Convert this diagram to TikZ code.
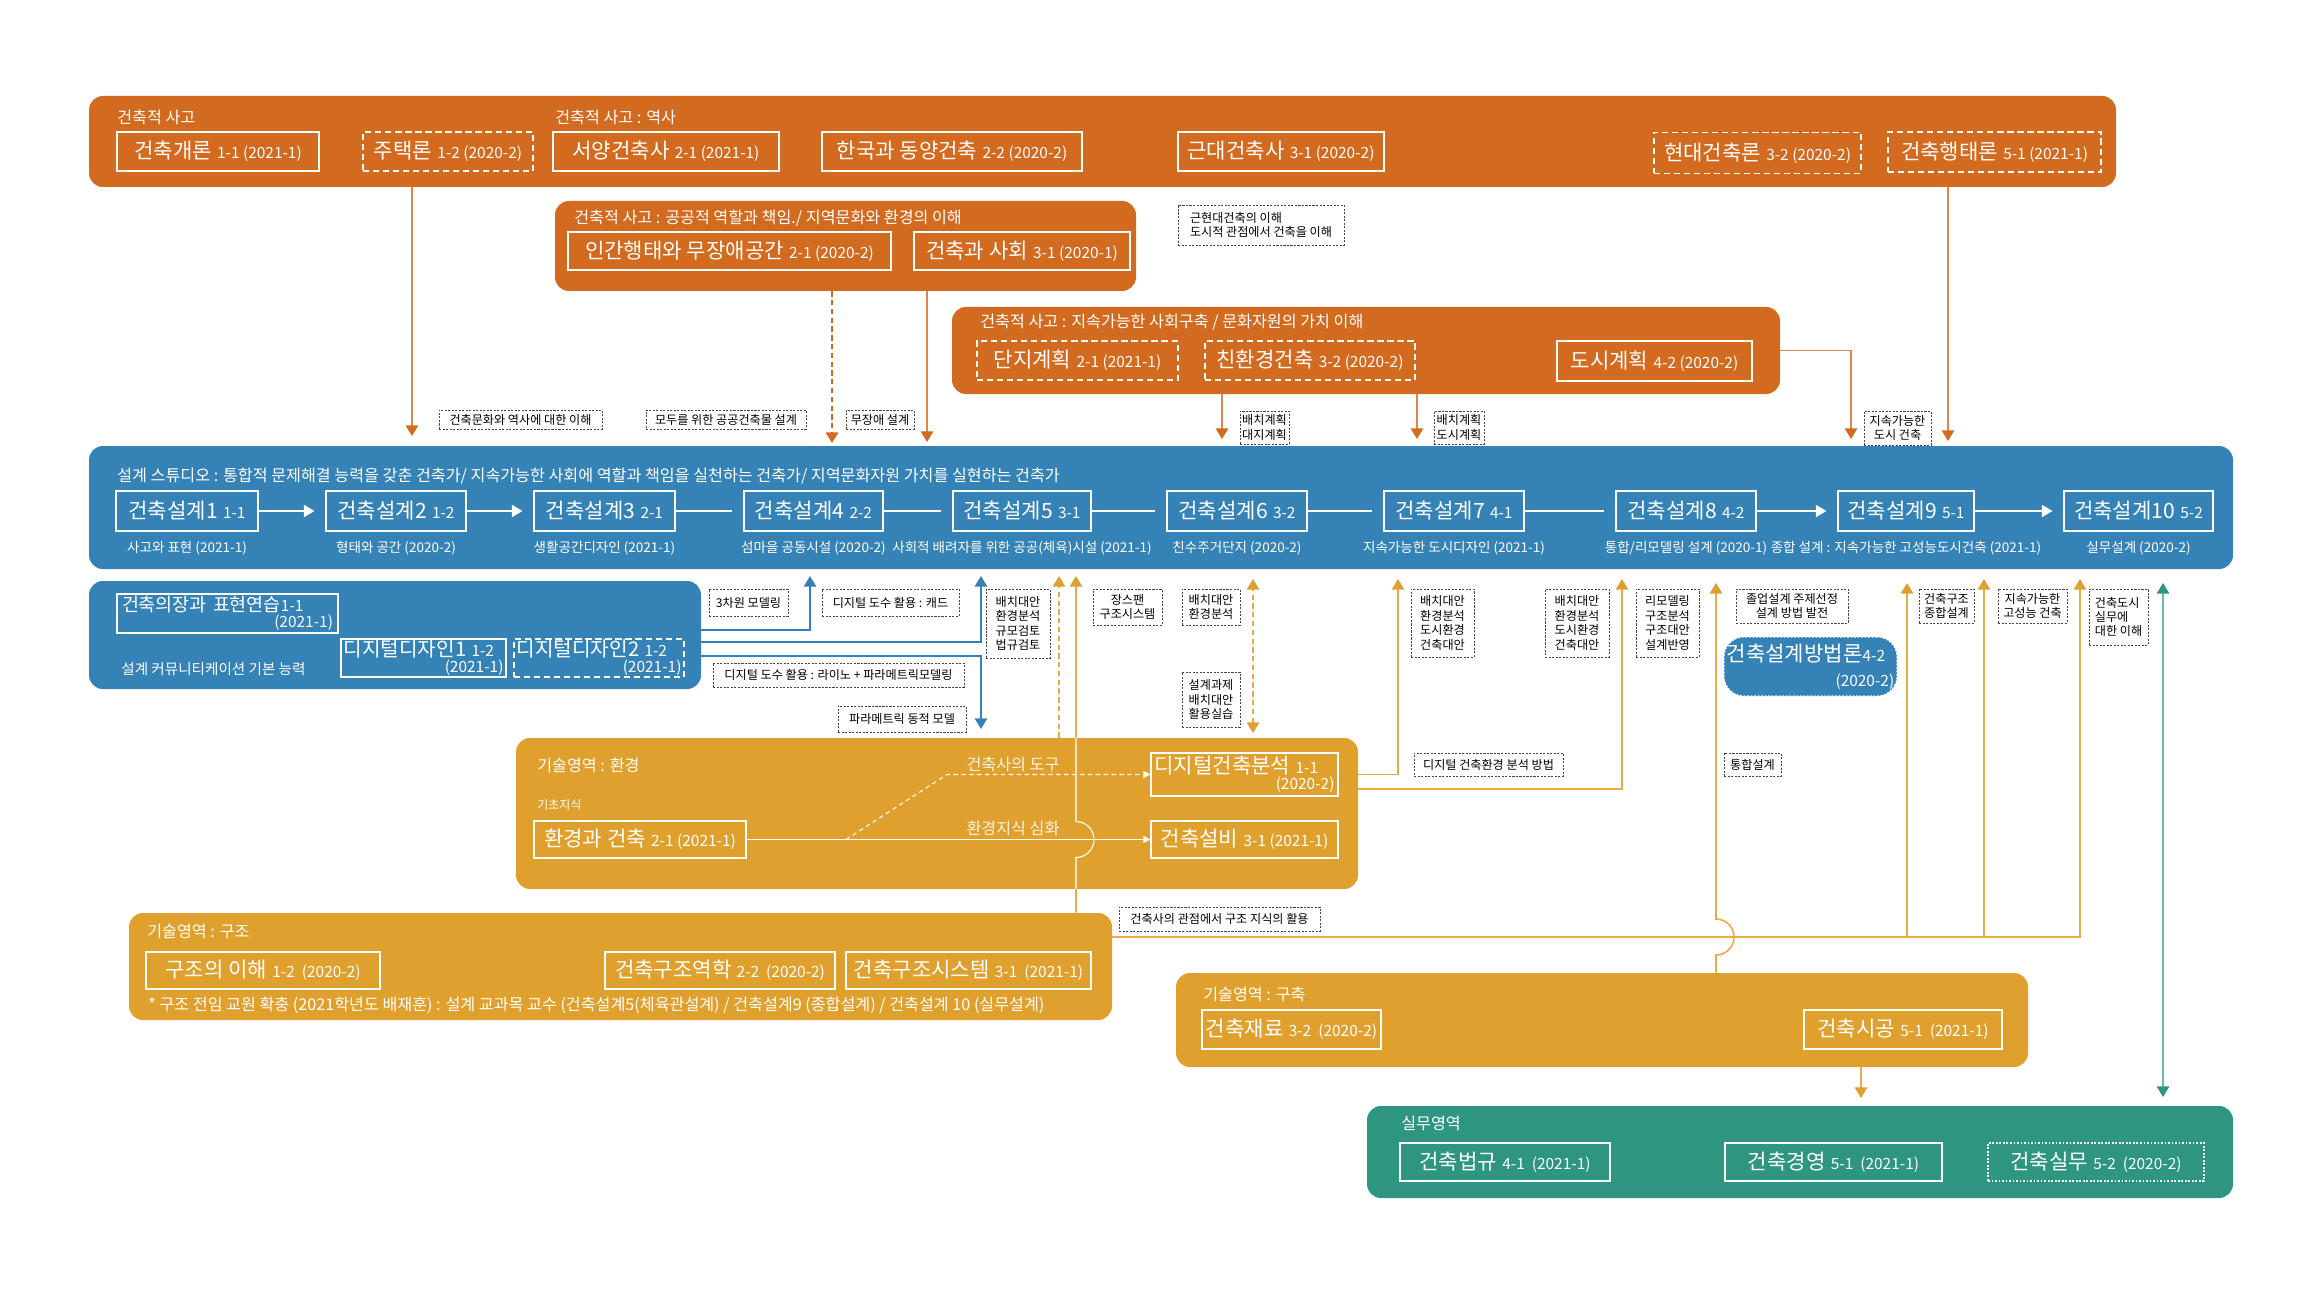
\documentclass[tikz,border=0pt]{standalone}
\usepackage{fontspec}
\setmainfont{Noto Sans CJK KR}
\usepackage{tikz}
\usetikzlibrary{arrows.meta, positioning, calc}
\usepackage{xcolor}
\definecolor{thinkorange}{RGB}{210,106,31}
\definecolor{thinkline}{RGB}{222,134,78}
\definecolor{techamber}{RGB}{224,160,46}
\definecolor{techline}{RGB}{234,170,70}
\definecolor{studioblue}{RGB}{53,130,182}
\definecolor{practeal}{RGB}{46,150,128}
\definecolor{pracline}{RGB}{110,186,166}
\definecolor{notegray}{RGB}{70,70,70}

\newcommand{\ccode}[1]{{\fontsize{8.8}{9}\selectfont #1}}
\newcommand{\course}[2]{#1\hspace{3pt}\ccode{#2}}

\begin{document}
\begin{tikzpicture}[
		x=0.02cm, y=-0.02cm,
		every node/.style={font=\fontsize{9.2}{10}\selectfont, text=white, inner sep=0pt},
		sz/.style 2 args={minimum width=#1*0.02cm, minimum height=#2*0.02cm},
		band/.style={fill=#1, rounded corners=0.28cm},
		bandlab/.style={anchor=west},
		crs/.style={draw=white, line width=0.7pt, font=\fontsize{12}{13}\selectfont},
		crsdash/.style={crs, dash pattern=on 3.5pt off 2.2pt},
		crsdot/.style={crs, dash pattern=on 1pt off 1pt},
		crstwo/.style={crs, align=left, font=\fontsize{11.5}{9}\selectfont},
		sub/.style={font=\fontsize{7.7}{8}\selectfont},
		note/.style={draw=notegray, fill=white, text=black, line width=0.4pt, dash pattern=on 1.2pt off 0.8pt, font=\fontsize{6.9}{8.2}\selectfont, align=center},
		envtxt/.style={text=white!88!techamber, font=\fontsize{9.2}{10}\selectfont},
		orngarrow/.style={draw=thinkline, line width=0.9pt, -{Triangle[width=7pt,length=6pt,color=thinkorange]}},
		amberarrow/.style={draw=techline, line width=0.9pt, -{Triangle[width=7pt,length=6pt,color=techamber]}},
		amberboth/.style={draw=techline, line width=0.9pt, dash pattern=on 3pt off 2pt, {Triangle[width=7pt,length=6pt,color=techamber]}-{Triangle[width=7pt,length=6pt,color=techamber]}},
		bluearrow/.style={draw=studioblue, line width=0.9pt, -{Triangle[width=7pt,length=6pt]}},
		tealboth/.style={draw=pracline, line width=0.9pt, {Triangle[width=7pt,length=6pt,color=practeal]}-{Triangle[width=7pt,length=6pt,color=practeal]}},
		chainarrow/.style={draw=white, line width=0.8pt, shorten >=0.22cm, -{Triangle[width=7pt,length=6pt]}},
		chainline/.style={draw=white, line width=0.8pt, shorten >=0.22cm},
		envarrow/.style={draw=white, line width=0.6pt, -{Triangle[width=4pt,length=4pt]}}
	]
	\fill[white] (0,0) rectangle (2300,1294);
	\useasboundingbox (0,0) rectangle (2300,1294);

	% 건축적 사고
	\node[band=thinkorange, sz={2027}{91}] (think) at (1102.5,141.5) {};
	\node[bandlab] (thinklab) at (117,117) {건축적 사고};
	\node[bandlab] (histlab) at (555,117) {건축적 사고 : 역사};
	\node[crs, sz={202}{39}] (c11) at (218,151.5) {\course{건축개론}{1-1 (2021-1)}};
	\node[crsdash, sz={170}{39}] (c12) at (448,151.5) {\course{주택론}{1-2 (2020-2)}};
	\node[crs, sz={226}{39}] (c21) at (666,151.5) {\course{서양건축사}{2-1 (2021-1)}};
	\node[crs, sz={260}{39}] (c22) at (952,151.5) {\course{한국과 동양건축}{2-2 (2020-2)}};
	\node[crs, sz={206}{39}] (c31) at (1281,151.5) {\course{근대건축사}{3-1 (2020-2)}};
	\node[crsdash, sz={207}{41}] (c32) at (1757.5,153) {\course{현대건축론}{3-2 (2020-2)}};
	\node[crsdash, sz={213}{40}] (c51) at (1994.5,152) {\course{건축행태론}{5-1 (2021-1)}};

	\node[band=thinkorange, sz={581}{90}] (public) at (845.5,246) {};
	\node[bandlab] (publab) at (574,218) {건축적 사고 : 공공적 역할과 책임./ 지역문화와 환경의 이해};
	\node[crs, sz={323}{38}] (p21) at (729.5,251) {\course{인간행태와 무장애공간}{2-1 (2020-2)}};
	\node[crs, sz={216}{38}] (p31) at (1022,251) {\course{건축과 사회}{3-1 (2020-1)}};

	\node[band=thinkorange, sz={828}{87}] (sustain) at (1366,350.5) {};
	\node[bandlab] (suslab) at (980,322) {건축적 사고 : 지속가능한 사회구축 / 문화자원의 가치 이해};
	\node[crsdash, sz={201}{39}] (s21) at (1077.5,360.5) {\course{단지계획}{2-1 (2021-1)}};
	\node[crsdash, sz={210}{39}] (s32) at (1310,360.5) {\course{친환경건축}{3-2 (2020-2)}};
	\node[crs, sz={195}{40}] (s42) at (1654.5,361) {\course{도시계획}{4-2 (2020-2)}};

	% 설계 스튜디오
	\node[band=studioblue, sz={2144}{123}] (studio) at (1161,507.5) {};
	\node[bandlab] (stulab) at (117,476) {설계 스튜디오 : 통합적 문제해결 능력을 갖춘 건축가/ 지속가능한 사회에 역할과 책임을 실천하는 건축가/ 지역문화자원 가치를 실현하는 건축가};
	\node[crs, sz={142}{40}] (d1) at (187,511) {\course{건축설계1}{1-1}};
	\node[crs, sz={140}{40}] (d2) at (396,511) {\course{건축설계2}{1-2}};
	\node[crs, sz={141}{40}] (d3) at (604.5,511) {\course{건축설계3}{2-1}};
	\node[crs, sz={139}{40}] (d4) at (813.5,511) {\course{건축설계4}{2-2}};
	\node[crs, sz={138}{40}] (d5) at (1022,511) {\course{건축설계5}{3-1}};
	\node[crs, sz={140}{40}] (d6) at (1237,511) {\course{건축설계6}{3-2}};
	\node[crs, sz={140}{40}] (d7) at (1454,511) {\course{건축설계7}{4-1}};
	\node[crs, sz={140}{40}] (d8) at (1686,511) {\course{건축설계8}{4-2}};
	\node[crs, sz={136}{40}] (d9) at (1906,511) {\course{건축설계9}{5-1}};
	\node[crs, sz={149}{40}] (d10) at (2138.5,511) {\course{건축설계10}{5-2}};
	\node[sub, below=5.5pt of d1] (d1s) {사고와 표현 (2021-1)};
	\node[sub, below=5.5pt of d2] (d2s) {형태와 공간 (2020-2)};
	\node[sub, below=5.5pt of d3] (d3s) {생활공간디자인 (2021-1)};
	\node[sub, below=5.5pt of d4] (d4s) {섬마을 공동시설 (2020-2)};
	\node[sub, below=5.5pt of d5] (d5s) {사회적 배려자를 위한 공공(체육)시설 (2021-1)};
	\node[sub, below=5.5pt of d6] (d6s) {친수주거단지 (2020-2)};
	\node[sub, below=5.5pt of d7] (d7s) {지속가능한 도시디자인 (2021-1)};
	\node[sub, below=5.5pt of d8] (d8s) {통합/리모델링 설계 (2020-1)};
	\node[sub, below=5.5pt of d9] (d9s) {종합 설계 : 지속가능한 고성능도시건축 (2021-1)};
	\node[sub, below=5.5pt of d10] (d10s) {실무설계 (2020-2)};
	\draw[chainarrow] (d1) -- (d2);
	\draw[chainarrow] (d2) -- (d3);
	\draw[chainline] (d3) -- (d4);
	\draw[chainline] (d4) -- (d5);
	\draw[chainline] (d5) -- (d6);
	\draw[chainline] (d6) -- (d7);
	\draw[chainline] (d7) -- (d8);
	\draw[chainarrow] (d8) -- (d9);
	\draw[chainarrow] (d9) -- (d10);

	\node[band=studioblue, sz={612}{108}] (comm) at (395,635) {};
	\node[crstwo, font=\fontsize{10.5}{9}\selectfont, sz={221}{39}, text width=4.22cm] (e1) at (227.5,613.5) {건축의장과 표현연습\ccode{1-1}\\\hfill\ccode{(2021-1)}};
	\node[crstwo, sz={165}{38}, text width=3.2cm] (e2) at (423.5,658) {디지털디자인1\hspace{3pt}\ccode{1-2}\\\hfill\ccode{(2021-1)}};
	\node[crstwo, dash pattern=on 3.5pt off 2.2pt, sz={170}{38}, text width=3.3cm] (e3) at (599,658) {디지털디자인2\hspace{3pt}\ccode{1-2}\\\hfill\ccode{(2021-1)}};
	\node[bandlab, font=\fontsize{8.3}{9}\selectfont] (commlab) at (121,669) {설계 커뮤니티케이션 기본 능력};

	\node[band=studioblue, draw=white, line width=0.6pt, dash pattern=on 1pt off 1pt, rounded corners=0.4cm, sz={173}{59}, align=left, text width=3.35cm, font=\fontsize{12}{14}\selectfont] (m42) at (1810.5,666.5) {건축설계방법론\ccode{4-2}\\\hfill\ccode{(2020-2)}};

	% 기술영역
	\node[band=techamber, sz={842}{151}] (env) at (937,813.5) {};
	\node[bandlab] (envlab) at (537,765) {기술영역 : 환경};
	\node[bandlab, font=\fontsize{6.8}{8}\selectfont] (envbase) at (537,805) {기초지식};
	\node[crs, sz={212}{37}] (k21) at (640,839.5) {\course{환경과 건축}{2-1 (2021-1)}};
	\node[crstwo, font=\fontsize{12}{9}\selectfont, sz={187}{43}, text width=3.6cm] (dga) at (1244.5,774.5) {디지털건축분석\hspace{3pt}\ccode{1-1}\\\hfill\ccode{(2020-2)}};
	\node[crs, sz={187}{37}] (k31) at (1244.5,839.5) {\course{건축설비}{3-1 (2021-1)}};
	\node[envtxt] (tool) at (1013,764) {건축사의 도구};
	\node[envtxt] (deep) at (1013,828) {환경지식 심화};
	\coordinate (kb) at (846,839.5);
	\coordinate (kk) at (947,774.5);
	\draw[envarrow] (k21) -- (k31);
	\draw[envarrow, dash pattern=on 2.5pt off 2pt] (kb) -- (kk) -- (dga.west);

	\node[band=techamber, sz={983}{107}] (struc) at (620.5,966.5) {};
	\node[bandlab] (struclab) at (147,931) {기술영역 : 구조};
	\node[crs, sz={234}{37}] (r12) at (263,970.5) {\course{구조의 이해}{1-2\hspace{4pt}(2020-2)}};
	\node[crs, sz={230}{37}] (r22) at (720,970.5) {\course{건축구조역학}{2-2\hspace{4pt}(2020-2)}};
	\node[crs, sz={245}{37}] (r31) at (968.5,970.5) {\course{건축구조시스템}{3-1\hspace{4pt}(2021-1)}};
	\node[bandlab] (strucnote) at (148,1005) {* 구조 전임 교원 확충 (2021학년도 배재훈) : 설계 교과목 교수 (건축설계5(체육관설계) / 건축설계9 (종합설계) / 건축설계 10 (실무설계)};

	\node[band=techamber, sz={852}{94}] (cons) at (1602,1020) {};
	\node[bandlab] (conslab) at (1203,994) {기술영역 : 구축};
	\node[crs, sz={179}{39}] (q32) at (1291.5,1029.5) {\course{건축재료}{3-2\hspace{4pt}(2020-2)}};
	\node[crs, sz={198}{39}] (q51) at (1903,1029.5) {\course{건축시공}{5-1\hspace{4pt}(2021-1)}};

	% 실무영역
	\node[band=practeal, sz={866}{92}] (prac) at (1800,1152) {};
	\node[bandlab] (praclab) at (1401,1123) {실무영역};
	\node[crs, sz={210}{38}] (w41) at (1505,1162) {\course{건축법규}{4-1\hspace{4pt}(2021-1)}};
	\node[crs, sz={217}{38}] (w51) at (1833.5,1162) {\course{건축경영}{5-1\hspace{4pt}(2021-1)}};
	\node[crsdot, sz={216}{38}] (w52) at (2096,1162) {\course{건축실무}{5-2\hspace{4pt}(2020-2)}};

	% connectors from 건축적 사고
	\coordinate (ta1) at (412,436);
	\coordinate (ta2) at (832,443);
	\coordinate (ta3) at (927,442);
	\coordinate (ta4) at (1222,439);
	\coordinate (ta5) at (1417,439);
	\coordinate (ta6) at (1851,439);
	\coordinate (ta7) at (1948,441);
	\draw[orngarrow] (think.south -| ta1) -- (ta1);
	\draw[orngarrow, draw=thinkorange, line width=1.2pt, dash pattern=on 3pt off 2pt] (public.south -| ta2) -- (ta2);
	\draw[orngarrow] (public.south -| ta3) -- (ta3);
	\draw[orngarrow] (sustain.south -| ta4) -- (ta4);
	\draw[orngarrow] (sustain.south -| ta5) -- (ta5);
	\draw[orngarrow] (sustain.east) -| (ta6);
	\draw[orngarrow] (think.south -| ta7) -- (ta7);

	% connectors from 커뮤니케이션
	\coordinate (tb1) at (810,576);
	\coordinate (tb2) at (981,576);
	\coordinate (tb3) at (981,729);
	\draw[bluearrow] ($(comm.east)+(0,-5)$) -| (tb1);
	\draw[bluearrow] ($(comm.east)+(0,7)$) -| (tb2);
	\draw[bluearrow] ($(comm.east)+(0,21)$) -| (tb3);

	% connectors from 기술영역
	\coordinate (tg1) at (1059,576);
	\coordinate (tg2) at (1076,576);
	\coordinate (hop1) at (1076,857.5);
	\coordinate (tg3a) at (1253,579);
	\coordinate (tg3b) at (1253,733);
	\coordinate (tg4) at (1398,579);
	\coordinate (tg5) at (1622,579);
	\coordinate (tg6) at (1716,583);
	\coordinate (hop2) at (1716,955);
	\coordinate (tg7) at (1861,1098);
	\coordinate (tg9) at (1907,583);
	\coordinate (tg10) at (1984,579);
	\coordinate (tg11) at (2080,579);
	\coordinate (sb) at ($(struc.east)+(0,-29.5)$);
	\draw[amberarrow, dash pattern=on 3pt off 2pt] (env.north -| tg1) -- (tg1);
	\draw[amberarrow] (struc.north -| tg2) -- (hop1) arc[start angle=-90, end angle=90, radius=0.36cm] -- (tg2);
	\draw[white, line width=0.6pt] (env.south -| tg2) -- (hop1) arc[start angle=-90, end angle=90, radius=0.36cm] -- (env.north -| tg2);
	\draw[amberboth] (tg3b) -- (tg3a);
	\draw[amberarrow] (dga.east -| env.east) -| (tg4);
	\draw[amberarrow] ($(dga.east -| env.east)+(0,14.5)$) -| (tg5);
	\draw[amberarrow] (sb) -| (tg11);
	\draw[amberarrow] (sb -| tg9) -- (tg9);
	\draw[amberarrow] (sb -| tg10) -- (tg10);
	\draw[amberarrow] (cons.north -| tg6) -- (hop2) arc[start angle=-90, end angle=90, radius=0.36cm] -- (tg6);
	\draw[amberarrow] (cons.south -| tg7) -- (tg7);

	% 실무
	\coordinate (tt1) at (2163,583);
	\coordinate (tt2) at (2163,1097);
	\draw[tealboth] (tt1) -- (tt2);

	% notes
	\node[note, align=left, sz={166}{40}] (nmodern) at (1261,225) {근현대건축의 이해\\도시적 관점에서 건축을 이해};
	\node[note, sz={163}{19}] (nhist) at (520.5,419.5) {건축문화와 역사에 대한 이해};
	\node[note, sz={160}{19}] (npub) at (726,419.5) {모두를 위한 공공건축물 설계};
	\node[note, sz={68}{19}] (nbarrier) at (880,419.5) {무장애 설계};
	\node[note, sz={49}{33}] (nsite) at (1264.5,427.5) {배치계획\\대지계획};
	\node[note, sz={50}{33}] (ncity) at (1459,427.5) {배치계획\\도시계획};
	\node[note, sz={67}{34}] (nsus) at (1897.5,428) {지속가능한\\도시 건축};
	\node[note, sz={79}{27}] (n3d) at (748.5,602.5) {3차원 모델링};
	\node[note, sz={137}{27}] (ncad) at (890.5,602.5) {디지털 도수 활용 : 캐드};
	\node[note, sz={251}{24}] (nrhino) at (838.5,675) {디지털 도수 활용 : 라이노 + 파라메트릭모델링};
	\node[note, sz={128}{26}] (nparam) at (902,719) {파라메트릭 동적 모델};
	\node[note, sz={64}{69}] (nalt5) at (1018,623.5) {배치대안\\환경분석\\규모검토\\법규검토};
	\node[note, sz={69}{36}] (nspan) at (1127.5,607) {장스팬\\구조시스템};
	\node[note, sz={58}{36}] (nalt6) at (1211,607) {배치대안\\환경분석};
	\node[note, sz={58}{55}] (ntask) at (1211,699.5) {설계과제\\배치대안\\활용실습};
	\node[note, sz={63}{68}] (nalt7) at (1442.5,623) {배치대안\\환경분석\\도시환경\\건축대안};
	\node[note, sz={149}{23}] (ndigi) at (1488.5,764.5) {디지털 건축환경 분석 방법};
	\node[note, sz={64}{68}] (nalt8) at (1577,623) {배치대안\\환경분석\\도시환경\\건축대안};
	\node[note, sz={63}{68}] (nremo) at (1667.5,623) {리모델링\\구조분석\\구조대안\\설계반영};
	\node[note, sz={112}{34}] (ngrad) at (1792,606) {졸업설계 주제선정\\설계 방법 발전};
	\node[note, sz={57}{23}] (nint) at (1752.5,764.5) {통합설계};
	\node[note, sz={55}{34}] (nstr) at (1946.5,606) {건축구조\\종합설계};
	\node[note, sz={69}{34}] (nperf) at (2032.5,606) {지속가능한\\고성능 건축};
	\node[note, align=left, sz={59}{56}] (npract) at (2118.5,617) {건축도시\\실무에\\대한 이해};
	\node[note, sz={201}{24}] (nstruc) at (1219.5,919) {건축사의 관점에서 구조 지식의 활용};
\end{tikzpicture}
\end{document}
